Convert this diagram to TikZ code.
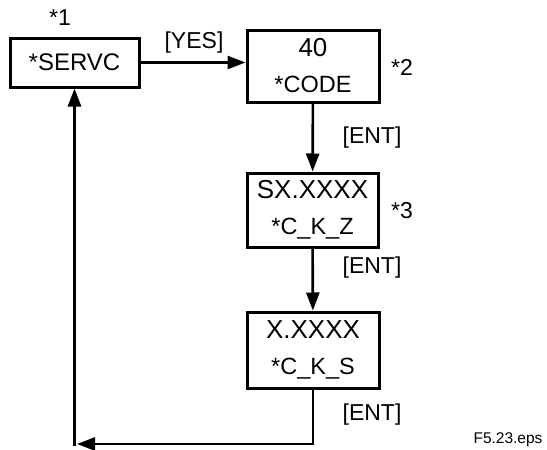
\documentclass[tikz,border=0pt]{standalone}
\usepackage{fontspec}
\setmainfont{Liberation Sans}
\usetikzlibrary{arrows.meta}
\newcommand{\subl}[1]{{\fontsize{23.5}{36}\selectfont #1}}
\begin{document}
\begin{tikzpicture}[x=1pt,y=-1pt,
  box/.style={draw,line width=3pt,inner sep=0pt,align=center,font=\fontsize{26}{36}\selectfont},
  lbl/.style={inner sep=0pt,font=\fontsize{23}{27}\selectfont},
  conn/.style={line width=2.6pt,-{Triangle[length=18pt,width=13pt]}},
  plain/.style={line width=2.6pt}]
\useasboundingbox (0,0) rectangle (547,450);
\node[box,font=\fontsize{24}{28}\selectfont,minimum width=129pt,minimum height=49pt] (servc) at (74.5,62.5) {*SERVC};
\node[box,minimum width=132pt,minimum height=72pt] (code) at (313,66) {40\\\subl{*CODE}};
\node[box,minimum width=131pt,minimum height=74pt] (sx) at (312.5,210) {SX.XXXX\\\subl{*C\_K\_Z}};
\node[box,minimum width=132pt,minimum height=76pt] (xs) at (313,350) {X.XXXX\\\subl{*C\_K\_S}};
\node[lbl] (n1) at (60,18) {*1};
\node[lbl] (n2) at (402,67) {*2};
\node[lbl] (n3) at (402,211) {*3};
\node[lbl] (yes) at (194,43) {[YES]};
\node[lbl] (e1) at (372,138) {[ENT]};
\node[lbl] (e2) at (372,268) {[ENT]};
\node[lbl] (e3) at (372,415) {[ENT]};
\node[inner sep=0pt,font=\fontsize{15.5}{18}\selectfont] (fn) at (508,440) {F5.23.eps};
\coordinate (bl) at (77,444);
\coordinate (vb) at (74.5,446);
\draw[conn] (servc.east) -- (servc.east -| code.west);
\draw[conn] (code) -- (sx);
\draw[conn] (sx) -- (xs);
\draw[conn] (xs.south) |- (bl);
\draw[conn] (vb) -- (servc.south);
\end{tikzpicture}
\end{document}
